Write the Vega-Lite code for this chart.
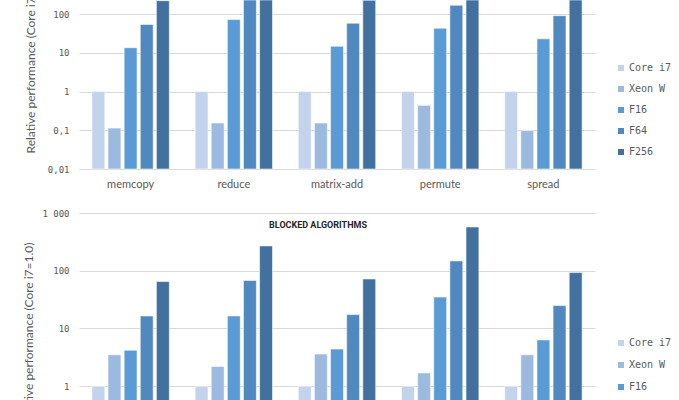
{
  "$schema": "https://vega.github.io/schema/vega-lite/v6.json",
  "autosize": {"type": "none"},
  "padding": {"left": 79, "top": 0, "right": 600, "bottom": 400},
  "background": "white",
  "bounds": "flush",
  "spacing": 44,
  "config": {
    "view": {"stroke": null},
    "axis": {"gridColor": "#d9d9d9", "gridWidth": 1.2}
  },
  "datasets": {
    "basic": [
      {"algorithm": "memcopy", "cpu": "Core i7", "value": 1},
      {"algorithm": "memcopy", "cpu": "Xeon W", "value": 0.114},
      {"algorithm": "memcopy", "cpu": "F16", "value": 13.5},
      {"algorithm": "memcopy", "cpu": "F64", "value": 54},
      {"algorithm": "memcopy", "cpu": "F256", "value": 222},
      {"algorithm": "reduce", "cpu": "Core i7", "value": 1},
      {"algorithm": "reduce", "cpu": "Xeon W", "value": 0.154},
      {"algorithm": "reduce", "cpu": "F16", "value": 72},
      {"algorithm": "reduce", "cpu": "F64", "value": 280},
      {"algorithm": "reduce", "cpu": "F256", "value": 900},
      {"algorithm": "matrix-add", "cpu": "Core i7", "value": 1},
      {"algorithm": "matrix-add", "cpu": "Xeon W", "value": 0.154},
      {"algorithm": "matrix-add", "cpu": "F16", "value": 14.7},
      {"algorithm": "matrix-add", "cpu": "F64", "value": 58},
      {"algorithm": "matrix-add", "cpu": "F256", "value": 228},
      {"algorithm": "permute", "cpu": "Core i7", "value": 1},
      {"algorithm": "permute", "cpu": "Xeon W", "value": 0.44},
      {"algorithm": "permute", "cpu": "F16", "value": 43},
      {"algorithm": "permute", "cpu": "F64", "value": 169},
      {"algorithm": "permute", "cpu": "F256", "value": 600},
      {"algorithm": "spread", "cpu": "Core i7", "value": 1},
      {"algorithm": "spread", "cpu": "Xeon W", "value": 0.098},
      {"algorithm": "spread", "cpu": "F16", "value": 23},
      {"algorithm": "spread", "cpu": "F64", "value": 91},
      {"algorithm": "spread", "cpu": "F256", "value": 350}
    ],
    "blocked": [
      {"algorithm": "memcopy", "cpu": "Core i7", "value": 1},
      {"algorithm": "memcopy", "cpu": "Xeon W", "value": 3.5},
      {"algorithm": "memcopy", "cpu": "F16", "value": 4.2},
      {"algorithm": "memcopy", "cpu": "F64", "value": 16.5},
      {"algorithm": "memcopy", "cpu": "F256", "value": 65},
      {"algorithm": "reduce", "cpu": "Core i7", "value": 1},
      {"algorithm": "reduce", "cpu": "Xeon W", "value": 2.2},
      {"algorithm": "reduce", "cpu": "F16", "value": 16.5},
      {"algorithm": "reduce", "cpu": "F64", "value": 68},
      {"algorithm": "reduce", "cpu": "F256", "value": 269},
      {"algorithm": "matrix-add", "cpu": "Core i7", "value": 1},
      {"algorithm": "matrix-add", "cpu": "Xeon W", "value": 3.6},
      {"algorithm": "matrix-add", "cpu": "F16", "value": 4.4},
      {"algorithm": "matrix-add", "cpu": "F64", "value": 17.4},
      {"algorithm": "matrix-add", "cpu": "F256", "value": 72},
      {"algorithm": "permute", "cpu": "Core i7", "value": 1},
      {"algorithm": "permute", "cpu": "Xeon W", "value": 1.7},
      {"algorithm": "permute", "cpu": "F16", "value": 35},
      {"algorithm": "permute", "cpu": "F64", "value": 148},
      {"algorithm": "permute", "cpu": "F256", "value": 573},
      {"algorithm": "spread", "cpu": "Core i7", "value": 1},
      {"algorithm": "spread", "cpu": "Xeon W", "value": 3.5},
      {"algorithm": "spread", "cpu": "F16", "value": 6.35},
      {"algorithm": "spread", "cpu": "F64", "value": 24.9},
      {"algorithm": "spread", "cpu": "F256", "value": 93}
    ]
  },
  "vconcat": [
    {
      "data": {"name": "basic"},
      "width": 516,
      "height": 169,
      "mark": {"type": "bar", "stroke": "white", "strokeWidth": 0.8, "strokeOpacity": 0.7},
      "encoding": {
        "x": {
          "field": "algorithm", "type": "nominal",
          "sort": ["memcopy", "reduce", "matrix-add", "permute", "spread"],
          "scale": {"paddingInner": 0.25, "paddingOuter": 0.125},
          "axis": {"title": null, "labelAngle": 0, "ticks": false, "domain": false, "labelPadding": 9, "labelFont": "Lato", "labelFontSize": 11, "labelColor": "#595959"}
        },
        "xOffset": {
          "field": "cpu", "type": "nominal",
          "sort": ["Core i7", "Xeon W", "F16", "F64", "F256"],
          "scale": {"paddingInner": 0.2}
        },
        "y": {
          "field": "value", "type": "quantitative",
          "scale": {"type": "log", "domain": [0.01, 231], "nice": false, "clamp": true},
          "axis": {
            "values": [0.01, 0.1, 1, 10, 100],
            "grid": true, "domain": false, "ticks": false, "labelPadding": 10,
            "labelFont": "DejaVu Sans Mono", "labelFontSize": 9, "labelColor": "#595959",
            "labelExpr": "datum.value >= 1000 ? '1 000' : (datum.value < 1 ? replace(toString(datum.value), '.', ',') : toString(datum.value))",
            "title": "Relative performance (Core i7=1.0)",
            "titleFont": "Lato", "titleFontSize": 12, "titleFontWeight": "normal", "titleColor": "#595959",
            "titleAngle": -90, "titleAlign": "left", "titleBaseline": "middle", "titleX": -49, "titleY": 153
          }
        },
        "color": {
          "field": "cpu", "type": "nominal",
          "scale": {"domain": ["Core i7", "Xeon W", "F16", "F64", "F256"], "range": ["#c3d3ec", "#9cb9df", "#5b9bd5", "#4f89bf", "#42719f"]},
          "legend": {
            "orient": "none", "legendX": 537, "legendY": 63, "title": null, "padding": 0,
            "symbolType": "square", "symbolSize": 36, "symbolStrokeWidth": 0,
            "labelFont": "DejaVu Sans Mono", "labelFontSize": 10, "labelColor": "#595959",
            "labelOffset": 3, "rowPadding": 11
          }
        }
      }
    },
    {
      "data": {"name": "blocked"},
      "width": 516,
      "height": 231,
      "title": {"text": "BLOCKED ALGORITHMS", "font": "Roboto", "fontSize": 9, "fontWeight": "bold", "color": "#262626", "anchor": "middle", "baseline": "middle", "offset": 0, "dx": -19, "dy": 25},
      "mark": {"type": "bar", "stroke": "white", "strokeWidth": 0.8, "strokeOpacity": 0.7},
      "encoding": {
        "x": {
          "field": "algorithm", "type": "nominal",
          "sort": ["memcopy", "reduce", "matrix-add", "permute", "spread"],
          "scale": {"paddingInner": 0.25, "paddingOuter": 0.125},
          "axis": {"title": null, "labelAngle": 0, "ticks": false, "domain": false, "labelPadding": 9, "labelFont": "Lato", "labelFontSize": 11, "labelColor": "#595959"}
        },
        "xOffset": {
          "field": "cpu", "type": "nominal",
          "sort": ["Core i7", "Xeon W", "F16", "F64", "F256"],
          "scale": {"paddingInner": 0.2}
        },
        "y": {
          "field": "value", "type": "quantitative",
          "scale": {"type": "log", "domain": [0.1, 1000], "nice": false, "clamp": true},
          "axis": {
            "values": [0.1, 1, 10, 100, 1000],
            "grid": true, "domain": false, "ticks": false, "labelPadding": 10,
            "labelFont": "DejaVu Sans Mono", "labelFontSize": 9, "labelColor": "#595959",
            "labelExpr": "datum.value >= 1000 ? '1 000' : (datum.value < 1 ? replace(toString(datum.value), '.', ',') : toString(datum.value))",
            "title": "Relative performance (Core i7=1.0)",
            "titleFont": "Lato", "titleFontSize": 12, "titleFontWeight": "normal", "titleColor": "#595959",
            "titleAngle": -90, "titleAlign": "right", "titleBaseline": "middle", "titleX": -51, "titleY": 29
          }
        },
        "color": {
          "field": "cpu", "type": "nominal",
          "scale": {"domain": ["Core i7", "Xeon W", "F16", "F64", "F256"], "range": ["#c3d3ec", "#9cb9df", "#5b9bd5", "#4f89bf", "#42719f"]},
          "legend": {
            "orient": "none", "legendX": 537, "legendY": 125, "title": null, "padding": 0,
            "symbolType": "square", "symbolSize": 36, "symbolStrokeWidth": 0,
            "labelFont": "DejaVu Sans Mono", "labelFontSize": 10, "labelColor": "#595959",
            "labelOffset": 3, "rowPadding": 12
          }
        }
      }
    }
  ],
  "resolve": {"legend": {"color": "independent"}, "scale": {"color": "independent"}}
}
